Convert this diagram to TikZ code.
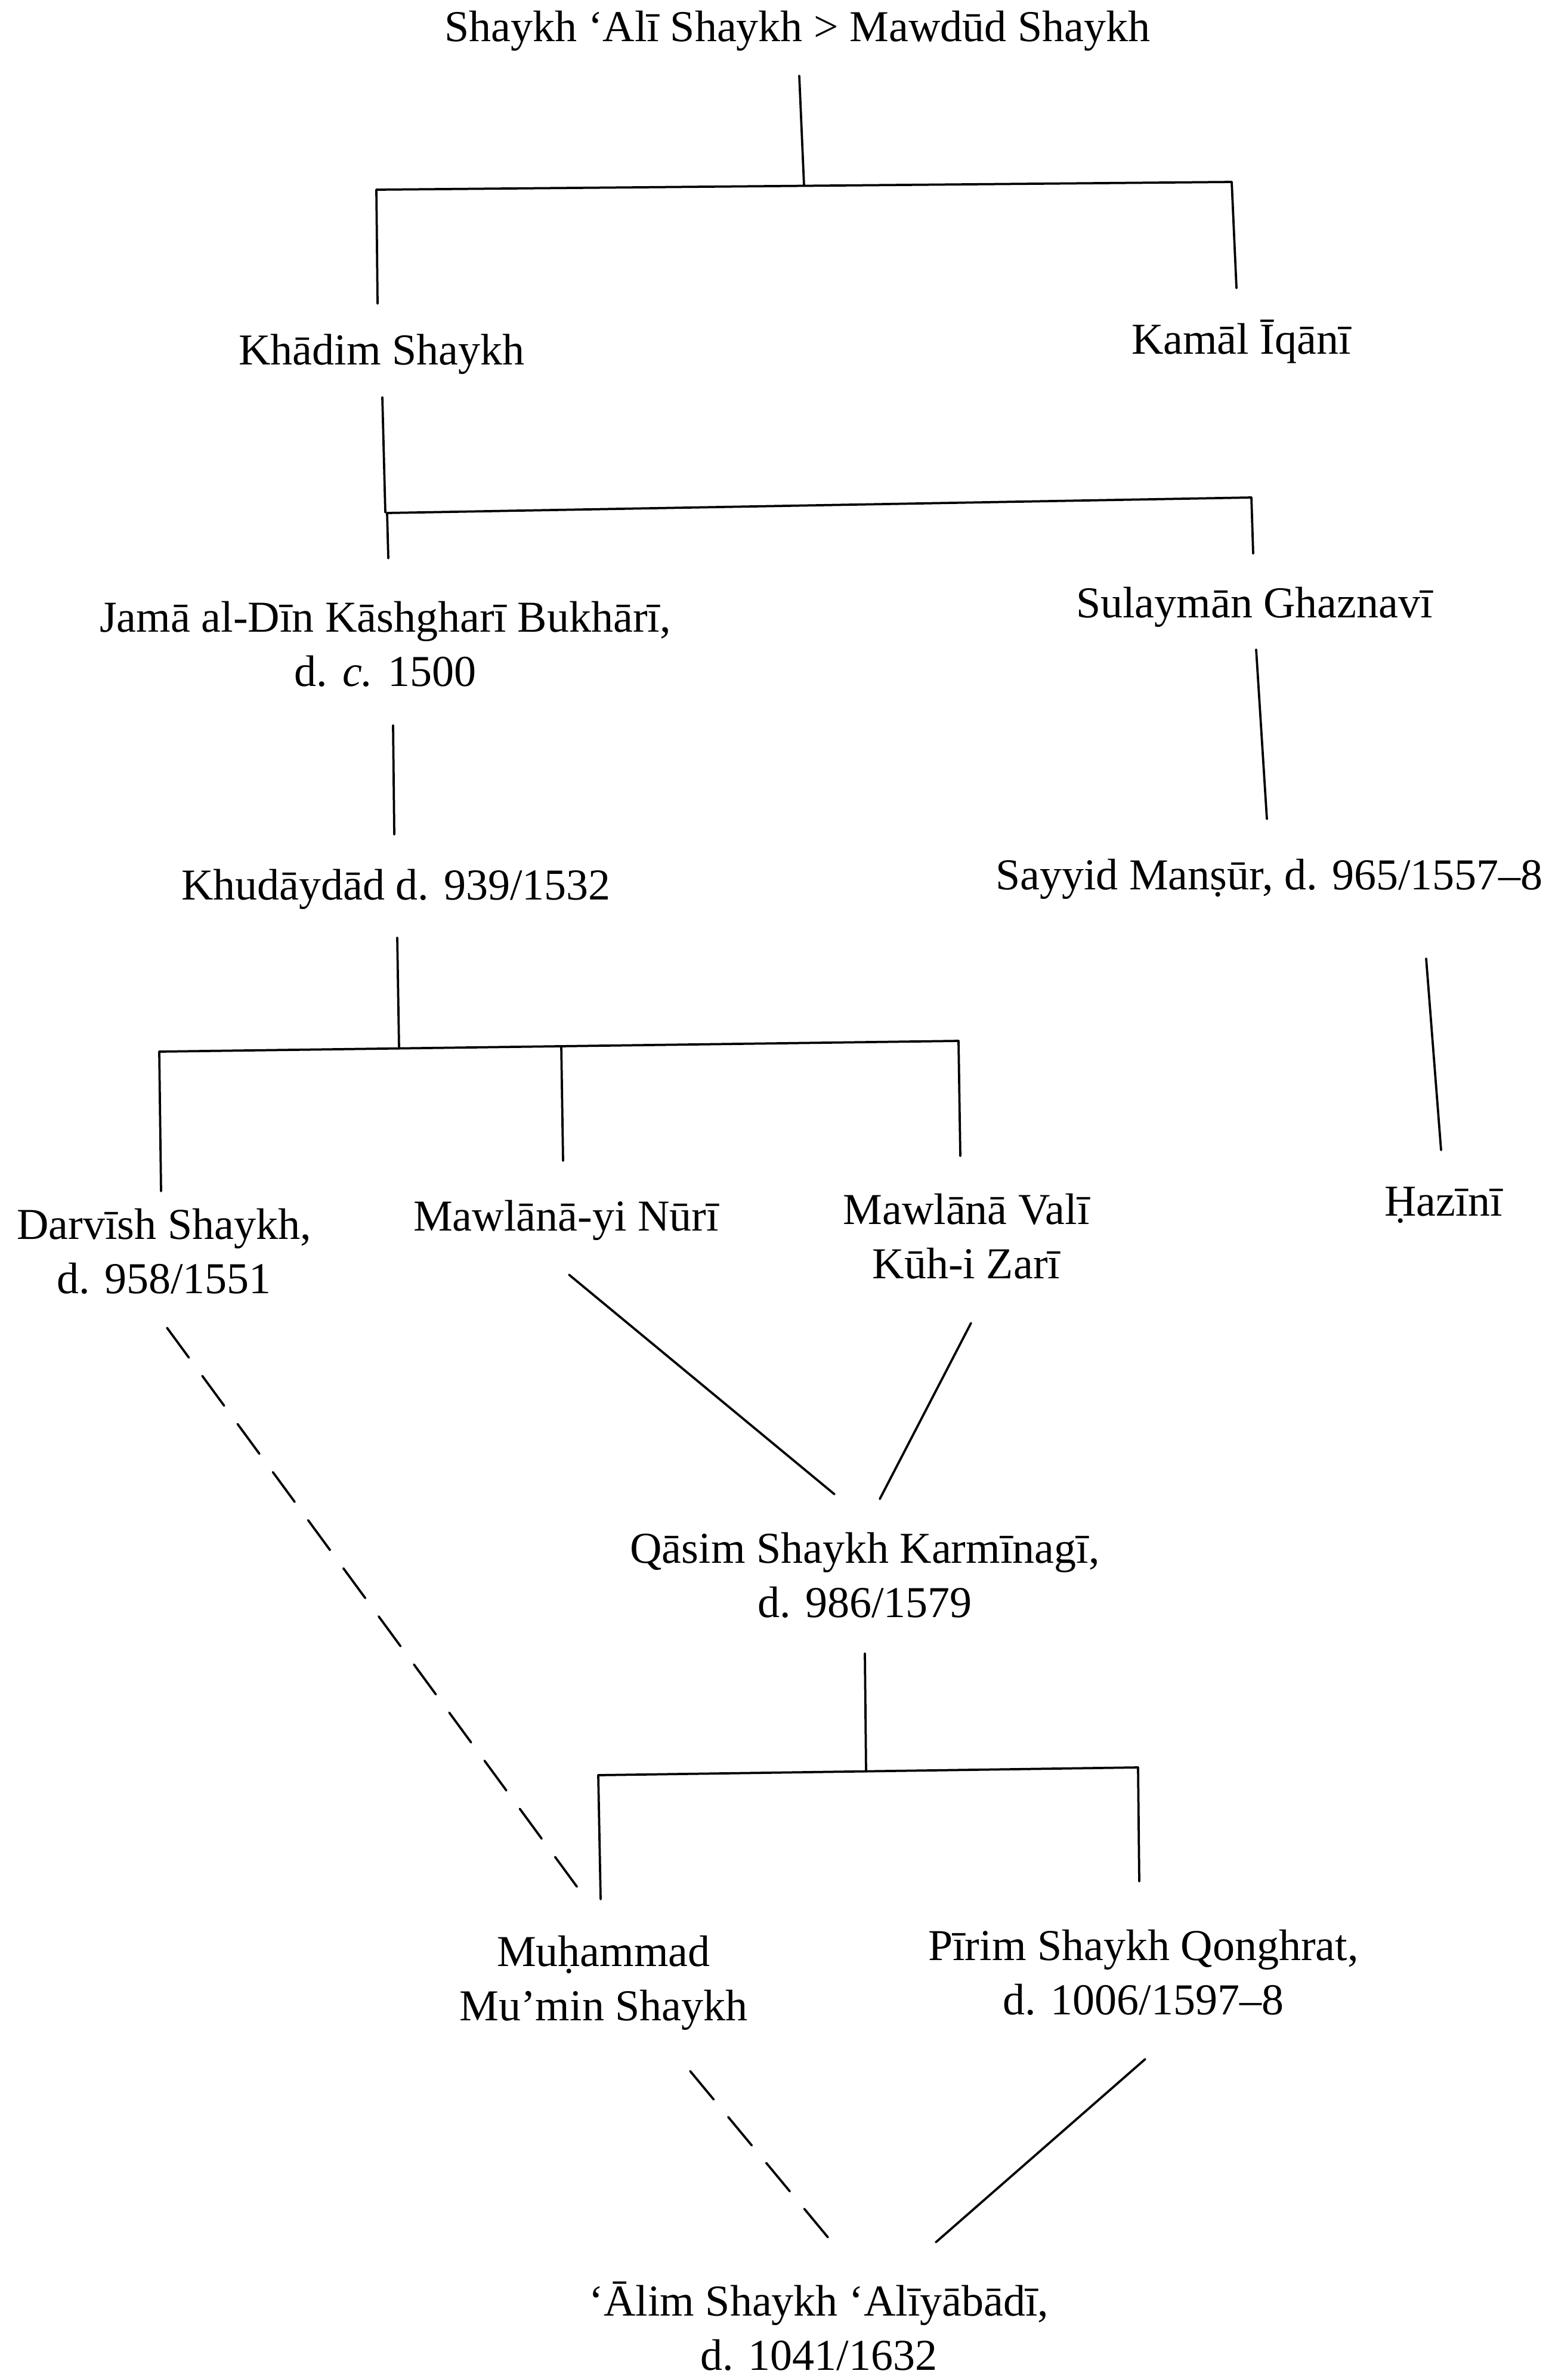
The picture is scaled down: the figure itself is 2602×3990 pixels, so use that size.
\documentclass[tikz,border=0pt]{standalone}
\usepackage{fontspec}
\setmainfont{Liberation Serif}
\begin{document}
\begin{tikzpicture}[x=0.2pt,y=-0.2pt,
  person/.style={font=\fontsize{14.8}{18.2}\selectfont, align=center, inner sep=0pt},
  link/.style={line width=0.75pt, line cap=round},
  dlink/.style={link, dash pattern=on 12.4pt off 7.6pt}]
\useasboundingbox[fill=white] (0,0) rectangle (2602,3990);

% people
\node[person] (top) at (1337,52) {Shaykh ‘Alī Shaykh > Mawdūd Shaykh};
\node[person] (khadim) at (640,594) {Khādim Shaykh};
\node[person] (kamal) at (2081,573) {Kamāl Īqānī};
\node[person] (jama) at (646,1080) {Jamā al-Dīn Kāshgharī Bukhārī,\\ d. \textit{c.} 1500};
\node[person] (sulayman) at (2103,1018) {Sulaymān Ghaznavī};
\node[person] (khud) at (664,1491) {Khudāydād d. 939/1532};
\node[person] (sayyid) at (2128,1474) {Sayyid Manṣūr, d. 965/1557–8};
\node[person] (darvish) at (275,2098) {Darvīsh Shaykh,\\ d. 958/1551};
\node[person] (nuri) at (949,2046) {Mawlānā-yi Nūrī};
\node[person] (vali) at (1620,2073) {Mawlānā Valī\\ Kūh-i Zarī};
\node[person] (hazini) at (2420,2020) {Ḥazīnī};
\node[person] (qasim) at (1450,2641) {Qāsim Shaykh Karmīnagī,\\ d. 986/1579};
\node[person] (muh) at (1012,3324) {Muḥammad\\ Mu’min Shaykh};
\node[person] (pirim) at (1917,3307) {Pīrim Shaykh Qonghrat,\\ d. 1006/1597–8};
\node[person] (alim) at (1373,3900) {‘Ālim Shaykh ‘Alīyābādī,\\ d. 1041/1632};

% junction points
\coordinate (b1) at (1348,311);
\coordinate (b1L) at (631,318);
\coordinate (b1R) at (2065,305);
\coordinate (b2) at (646,859);
\coordinate (b2L) at (649,860);
\coordinate (b2R) at (2098,834);
\coordinate (b3) at (669,1757);
\coordinate (b3L) at (267,1763);
\coordinate (b3M) at (941,1754);
\coordinate (b3R) at (1607,1745);
\coordinate (b4) at (1452,2970);
\coordinate (b4L) at (1003,2976);
\coordinate (b4R) at (1908,2963);

% generation 1
\draw[link] ([shift={(3,75)}]top.center) -- (b1);
\draw[link] (b1L) -- (b1R);
\draw[link] (b1L) -- ([shift={(-7,-85)}]khadim.center);
\draw[link] (b1R) -- ([shift={(-8,-90)}]kamal.center);

% generation 2
\draw[link] ([shift={(1,72)}]khadim.center) -- (b2);
\draw[link] (b2L) -- (b2R);
\draw[link] (b2L) -- ([shift={(5,-144)}]jama.center);
\draw[link] (b2R) -- ([shift={(-2,-90)}]sulayman.center);

% generation 3
\draw[link] ([shift={(13,136)}]jama.center) -- ([shift={(-3,-92)}]khud.center);
\draw[link] ([shift={(3,71)}]sulayman.center) -- ([shift={(-4,-101)}]sayyid.center);

% generation 4
\draw[link] ([shift={(2,81)}]khud.center) -- (b3);
\draw[link] (b3L) -- (b3R);
\draw[link] (b3L) -- ([shift={(-5,-101)}]darvish.center);
\draw[link] (b3M) -- ([shift={(-5,-100)}]nuri.center);
\draw[link] (b3R) -- ([shift={(-10,-135)}]vali.center);
\draw[link] ([shift={(263,133)}]sayyid.center) -- ([shift={(-4,-92)}]hazini.center);

% generation 5
\draw[dlink] ([shift={(5,128)}]darvish.center) -- ([shift={(-33,-145)}]muh.center);
\draw[link] ([shift={(5,91)}]nuri.center) -- ([shift={(-51,-136)}]qasim.center);
\draw[link] ([shift={(8,145)}]vali.center) -- ([shift={(25,-128)}]qasim.center);

% generation 6
\draw[link] ([shift={(0,131)}]qasim.center) -- (b4);
\draw[link] (b4L) -- (b4R);
\draw[link] (b4L) -- ([shift={(-5,-140)}]muh.center);
\draw[link] (b4R) -- ([shift={(-7,-153)}]pirim.center);

% generation 7
\draw[dlink] ([shift={(145,148)}]muh.center) -- ([shift={(26,-136)}]alim.center);
\draw[link] ([shift={(3,145)}]pirim.center) -- ([shift={(196,-141)}]alim.center);
\end{tikzpicture}
\end{document}
